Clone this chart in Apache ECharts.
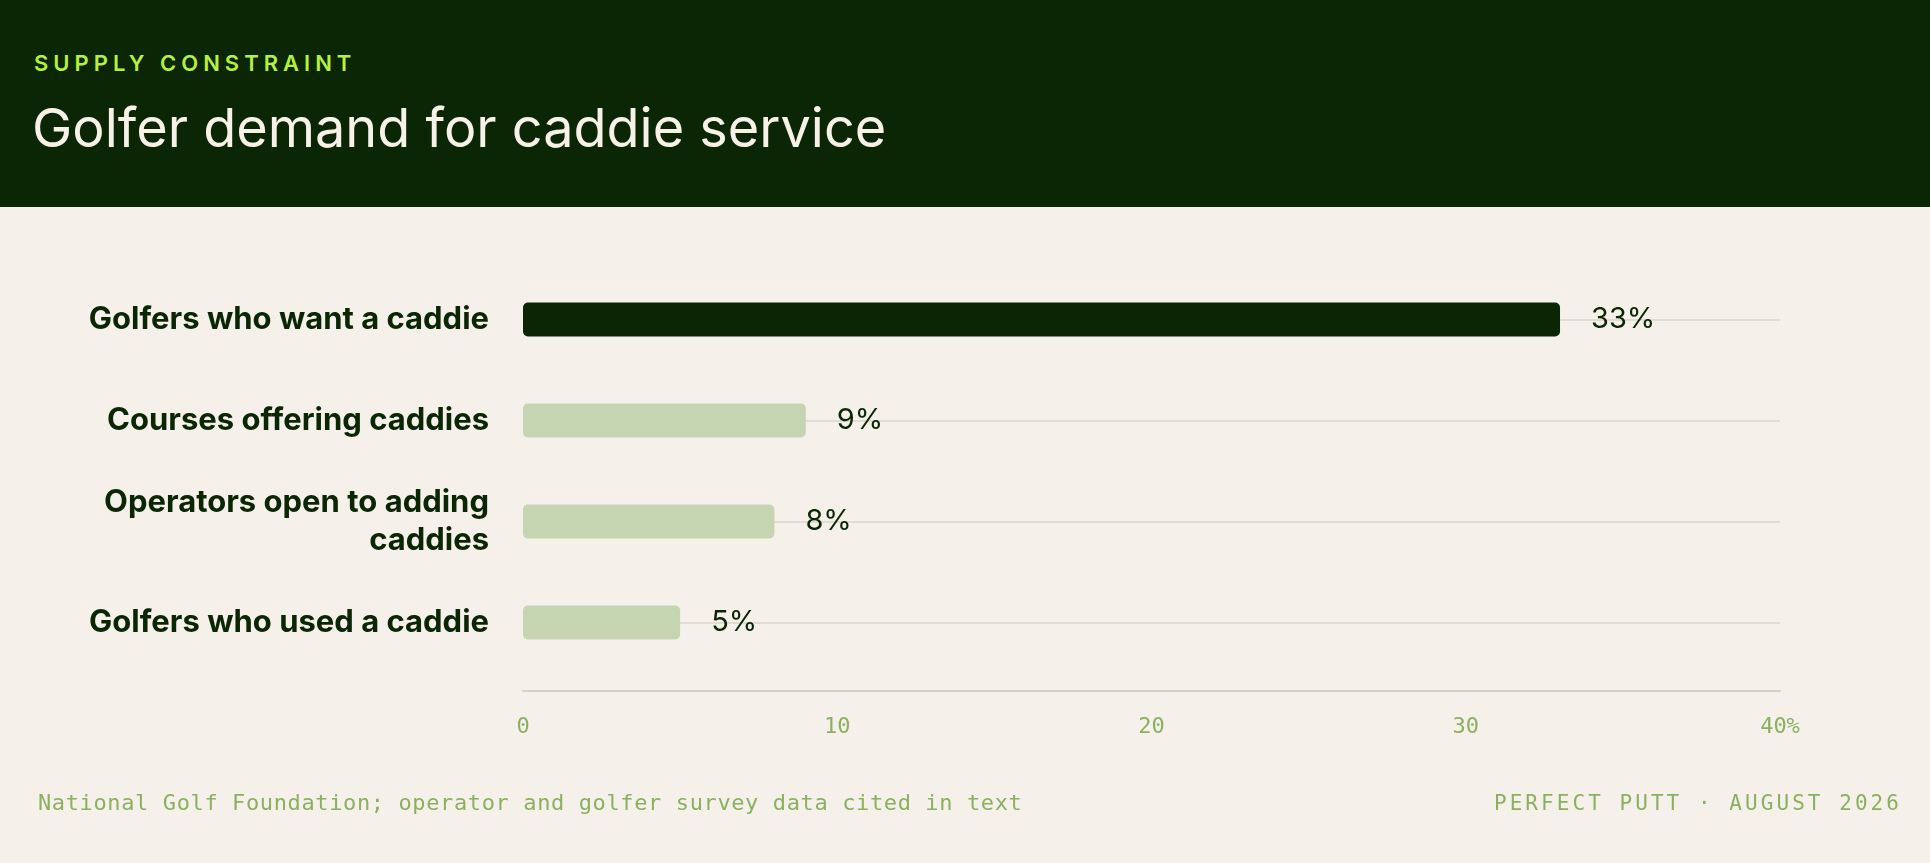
<!DOCTYPE html>
<html>
<head>
<meta charset="utf-8">
<title>Golfer demand for caddie service</title>
<script src="https://cdn.jsdelivr.net/npm/echarts@6/dist/echarts.min.js"></script>
<style>
  html, body { margin: 0; padding: 0; }
  body {
    width: 1930px; height: 863px; overflow: hidden; position: relative;
    background: #f6f0ea;
  }
  #header {
    position: absolute; left: 0; top: 0; width: 1930px; height: 207px;
    background: #0b2604;
  }
  #kicker {
    position: absolute; left: 34px; top: 49px;
    font: 600 22px/28px Inter, sans-serif; letter-spacing: 5px;
    color: #b6f03c;
  }
  #title {
    position: absolute; left: 32px; top: 95px;
    font: 400 54px/66px Inter, sans-serif; letter-spacing: 0px;
    color: #f7f1e8;
  }
  #chart { position: absolute; left: 0; top: 0; width: 1930px; height: 863px; }
  .foot {
    position: absolute; top: 789px;
    font: 400 22px/28px "DejaVu Sans Mono", monospace;
    color: #8bb060;
  }
  #source { left: 38px; letter-spacing: 0.62px; }
  #brand { right: 28px; font-size: 21px; letter-spacing: 3.05px; }
</style>
</head>
<body>
<div id="header">
  <div id="kicker">SUPPLY CONSTRAINT</div>
  <div id="title">Golfer demand for caddie service</div>
</div>
<div id="chart"></div>
<div class="foot" id="source">National Golf Foundation; operator and golfer survey data cited in text</div>
<div class="foot" id="brand">PERFECT PUTT · AUGUST 2026</div>
<script>
// share of golfers / courses / operators, percent
var categories = [
    'Golfers who want a caddie',
    'Courses offering caddies',
    'Operators open to adding\ncaddies',
    'Golfers who used a caddie'
];
var values = [33, 9, 8, 5];
var xTicks = [0, 10, 20, 30, 40];

var dark = '#0b2604';
var light = '#c5d4b1';

var chart = echarts.init(document.getElementById('chart'), null, { renderer: 'canvas' });
chart.setOption({
    animation: false,
    grid: { left: 523, right: 150, top: 269, bottom: 190, containLabel: false },
    xAxis: {
        type: 'value',
        min: xTicks[0],
        max: xTicks[xTicks.length - 1],
        interval: xTicks[1] - xTicks[0],
        offset: 18,
        axisLine: { show: true, lineStyle: { color: '#d6d1c7', width: 2 } },
        axisTick: { show: false },
        splitLine: { show: false },
        axisLabel: {
            margin: 25,
            fontFamily: 'DejaVu Sans Mono',
            fontSize: 22,
            color: '#8bb060',
            formatter: function (v) {
                return v === xTicks[xTicks.length - 1] ? v + '%' : String(v);
            }
        }
    },
    yAxis: {
        type: 'category',
        data: categories,
        inverse: true,
        axisLine: { show: false },
        axisTick: { show: false },
        splitLine: {
            show: true,
            alignWithLabel: true,
            lineStyle: { color: '#e1dcd4', width: 2 }
        },
        axisLabel: {
            margin: 34,
            fontFamily: 'Inter',
            fontWeight: 700,
            fontSize: 31,
            lineHeight: 38,
            align: 'right',
            color: dark
        }
    },
    series: [{
        type: 'bar',
        data: values,
        barWidth: 34,
        itemStyle: {
            borderRadius: 5,
            color: function (p) { return p.dataIndex === 0 ? dark : light; }
        },
        label: {
            show: true,
            position: 'right',
            distance: 31,
            formatter: '{c}%',
            fontFamily: 'Inter',
            fontSize: 29,
            color: dark
        }
    }]
});
</script>
</body>
</html>
